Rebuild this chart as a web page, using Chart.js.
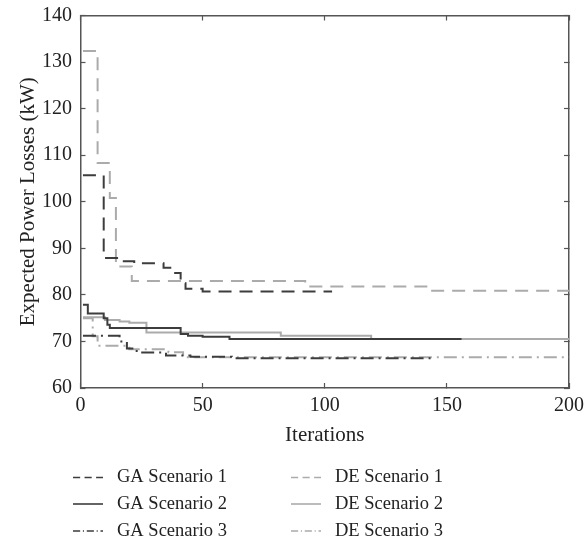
<!DOCTYPE html>
<html>
<head>
<meta charset="utf-8">
<script src="https://cdn.jsdelivr.net/npm/chart.js@4"></script>
<style>
  body { margin: 0; background: #fff; }
  canvas { display: block; }
</style>
</head>
<body>
<canvas id="lossChart" width="584" height="546"></canvas>
<script>
// iteration where each new best value shows up, and that value (kW)
var gaIter1 = [1, 9.5, 17, 22, 34, 38, 41, 43, 50, 103];
var gaLoss1 = [105.7, 87.9, 87.2, 86.8, 85.8, 84.7, 82.5, 81.3, 80.7, 80.7];
var gaIter2 = [1, 3, 9.5, 11, 12, 41, 44, 50, 61, 156];
var gaLoss2 = [77.9, 76.0, 75.0, 73.6, 72.9, 71.6, 71.2, 71.0, 70.5, 70.5];
var gaIter3 = [1, 16, 19, 23, 35, 45, 62, 144];
var gaLoss3 = [71.2, 70.0, 68.5, 67.6, 67.0, 66.7, 66.4, 66.4];

var deIter1 = [1, 7, 12, 14.5, 21, 92, 143, 200];
var deLoss1 = [132.4, 108.3, 100.8, 86.1, 83.0, 81.8, 80.9, 80.9];
var deIter2 = [1, 10, 16, 20, 27, 82, 119, 200];
var deLoss2 = [75.2, 74.6, 74.3, 74.0, 71.9, 71.2, 70.5, 70.5];
var deIter3 = [1, 5, 7, 20, 36, 42, 200];
var deLoss3 = [75.0, 71.1, 69.1, 68.3, 67.7, 66.6, 66.6];

var seriesNames = ['GA Scenario 1', 'GA Scenario 2', 'GA Scenario 3',
                   'DE Scenario 1', 'DE Scenario 2', 'DE Scenario 3'];
var xTicks = [0, 50, 100, 150, 200];
var yTicks = [60, 70, 80, 90, 100, 110, 120, 130, 140];

var gaColor = '#3d3d3d';
var deColor = '#ababab';
var dashed = [13, 8];
var dashDot = [13, 5, 2, 5];
var serif = 'Liberation Serif';

function toPoints(iters, losses) {
  return iters.map(function (it, i) { return { x: it, y: losses[i] }; });
}

function series(label, iters, losses, color, dash) {
  return {
    label: label,
    data: toPoints(iters, losses),
    borderColor: color,
    backgroundColor: color,
    borderWidth: 2,
    borderDash: dash,
    stepped: 'before',   // hold the best value, then drop
    pointRadius: 0,
    fill: false
  };
}

// two-column legend under the axes
var gridLegend = {
  id: 'gridLegend',
  afterDraw: function (chart) {
    var ctx = chart.ctx;
    var rowY = [477.5, 504, 531];
    var sampleX = [73, 291];
    var textX = [117, 335];
    ctx.save();
    ctx.font = '18.5px "' + serif + '"';
    ctx.textBaseline = 'middle';
    ctx.textAlign = 'left';
    chart.data.datasets.forEach(function (ds, i) {
      var col = i < 3 ? 0 : 1;
      var y = rowY[i % 3];
      ctx.strokeStyle = ds.borderColor;
      ctx.lineWidth = 1.6;
      ctx.setLineDash(ds.borderDash.map(function (d) { return d * 0.55; }));
      ctx.beginPath();
      ctx.moveTo(sampleX[col], y);
      ctx.lineTo(sampleX[col] + 30, y);
      ctx.stroke();
      ctx.setLineDash([]);
      ctx.fillStyle = '#222';
      ctx.fillText(ds.label, textX[col], y);
    });
    ctx.restore();
  }
};

var frameGrid = {
  drawOnChartArea: false,
  drawTicks: true,
  tickLength: -5,
  tickWidth: 1.2,
  color: '#555'
};
var frameBorder = { display: true, color: '#555', width: 1.5 };

function fixedTicks(list) {
  return function (s) { s.ticks = list.map(function (v) { return { value: v }; }); };
}

new Chart(document.getElementById('lossChart'), {
  type: 'line',
  data: {
    datasets: [
      series(seriesNames[0], gaIter1, gaLoss1, gaColor, dashed),
      series(seriesNames[1], gaIter2, gaLoss2, gaColor, []),
      series(seriesNames[2], gaIter3, gaLoss3, gaColor, dashDot),
      series(seriesNames[3], deIter1, deLoss1, deColor, dashed),
      series(seriesNames[4], deIter2, deLoss2, deColor, []),
      series(seriesNames[5], deIter3, deLoss3, deColor, dashDot)
    ]
  },
  options: {
    responsive: false,
    animation: false,
    layout: { padding: { top: 15.5, right: 15, bottom: 98, left: 0 } },
    plugins: {
      legend: { display: false },
      tooltip: { enabled: false }
    },
    scales: {
      x: {
        type: 'linear',
        position: 'bottom',
        min: 0,
        max: 200,
        afterBuildTicks: fixedTicks(xTicks),
        afterFit: function (s) { s.height = 60; s.paddingLeft = 0; s.paddingRight = 0; },
        grid: frameGrid,
        border: frameBorder,
        ticks: { padding: 10.5, color: '#222', font: { family: serif, size: 20 }, maxRotation: 0 },
        title: { display: true, text: 'Iterations', color: '#222', padding: { top: 0, bottom: 2.5 },
                 font: { family: serif, size: 21, lineHeight: 1 } }
      },
      xTop: {
        type: 'linear',
        position: 'top',
        min: 0,
        max: 200,
        afterBuildTicks: fixedTicks(xTicks),
        afterFit: function (s) { s.height = 0; s.paddingLeft = 0; s.paddingRight = 0; },
        grid: frameGrid,
        border: frameBorder,
        ticks: { display: false }
      },
      y: {
        type: 'linear',
        position: 'left',
        min: 60,
        max: 140,
        afterBuildTicks: fixedTicks(yTicks),
        afterFit: function (s) { s.width = 80.5; s.paddingTop = 0; s.paddingBottom = 0; },
        grid: frameGrid,
        border: frameBorder,
        ticks: { padding: 13.5, color: '#222', font: { family: serif, size: 20 } },
        title: { display: true, text: 'Expected Power Losses (kW)', color: '#222', padding: { top: 17.5, bottom: 0 },
                 font: { family: serif, size: 21, lineHeight: 1 } }
      },
      yRight: {
        type: 'linear',
        position: 'right',
        min: 60,
        max: 140,
        afterBuildTicks: fixedTicks(yTicks),
        afterFit: function (s) { s.width = 0; s.paddingTop = 0; s.paddingBottom = 0; },
        grid: frameGrid,
        border: frameBorder,
        ticks: { display: false }
      }
    }
  },
  plugins: [gridLegend]
});
</script>
</body>
</html>
